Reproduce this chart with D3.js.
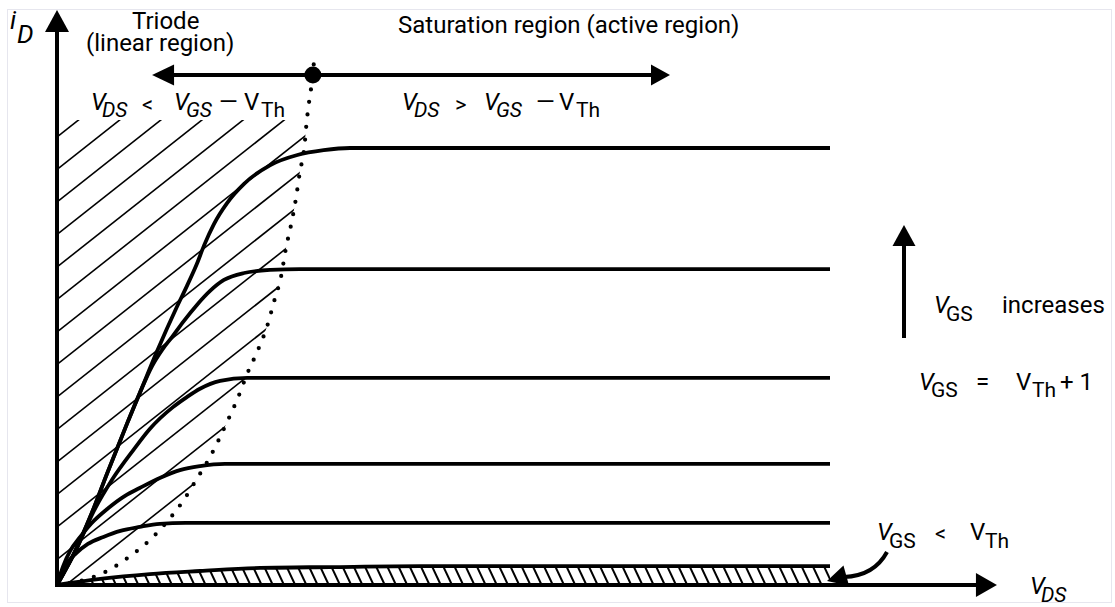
<!DOCTYPE html>
<html>
<head>
<meta charset="utf-8">
<script src="https://cdn.jsdelivr.net/npm/d3@7"></script>
<style>
 body { margin: 0; background: #fff; }
 text { font-family: Roboto, "Noto Sans", sans-serif; fill: #000; }
</style>
</head>
<body>
<script>
// iD vs VDS curves (VDS units, iD units)
var curveTop = [[0,0],[0.26,0.87],[0.43,1.56],[0.65,2.56],[0.91,3.71],[1.07,4.39],[1.29,5.33],[1.55,6.36],[1.68,6.84],[1.81,7.35],[1.90,7.76],[2.03,8.26],[2.20,8.74],[2.42,9.18],[2.76,9.61],[3.11,9.84],[3.45,9.95],[3.79,10],[10,10]];
var curve2 = [[0,0],[0.26,0.87],[0.43,1.56],[0.65,2.56],[0.91,3.71],[1.07,4.39],[1.23,5.01],[1.36,5.38],[1.49,5.68],[1.64,6.04],[1.81,6.41],[1.98,6.73],[2.16,6.98],[2.42,7.14],[2.76,7.21],[3.14,7.23],[10,7.23]];
var curve3 = [[0,0],[0.26,0.85],[0.45,1.60],[0.72,2.43],[0.98,3.07],[1.20,3.57],[1.50,4.07],[1.68,4.30],[1.85,4.49],[2.11,4.67],[2.46,4.74],[10,4.74]];
var curve4 = [[0,0],[0.08,0.43],[0.17,0.78],[0.30,1.10],[0.45,1.42],[0.65,1.74],[0.88,2.04],[1.07,2.22],[1.33,2.45],[1.59,2.63],[1.85,2.72],[2.17,2.77],[10,2.77]];
var curve5 = [[0,0],[0.05,0.25],[0.13,0.50],[0.25,0.73],[0.40,0.94],[0.60,1.10],[0.82,1.24],[1.07,1.33],[1.33,1.40],[1.66,1.42],[10,1.42]];
// VGS < VTh leakage
var curveOff = [[0,0],[0.56,0.14],[1.20,0.25],[1.85,0.32],[2.63,0.39],[3.53,0.41],[4.70,0.43],[10,0.43]];
// pinch-off locus VDS = VGS - VTh
var pinchOff = [[0,0],[0.34,0.11],[0.65,0.32],[0.93,0.64],[1.19,1.01],[1.42,1.44],[1.63,1.92],[1.81,2.43],[1.98,2.93],[2.20,3.73],[2.34,4.28],[2.46,4.83],[2.60,5.38],[2.72,5.93],[2.81,6.50],[2.90,7.07],[2.96,7.69],[3.03,8.26],[3.09,8.83],[3.14,9.43],[3.20,10.02],[3.23,10.60],[3.27,11.17],[3.31,11.67],[3.33,12.13]];
var satCurves = [curveTop, curve2, curve3, curve4, curve5];

// annotation anchors (data units)
var regionArrow = [1.23, 7.93];   // VDS span of the double arrow
var arrowLevel = 11.67;           // iD level of the double arrow
var hatchTop = 10.64;             // top of triode hatching
var axisEnds = [12.16, 13.16];    // arrow tips of VDS and iD axes

var width = 1115, height = 607;
var x = d3.scaleLinear().domain([0, 10]).range([57, 830]);
var y = d3.scaleLinear().domain([0, 10]).range([585, 148]);

var svg = d3.select("body").append("svg")
  .attr("width", width)
  .attr("height", height);

// faint frame
svg.append("rect")
  .attr("x", 7.5).attr("y", 9.5).attr("width", 1104).attr("height", 593)
  .attr("fill", "none").attr("stroke", "#e6e6ee").attr("stroke-width", 1);

var line = d3.line()
  .x(function(d) { return x(d[0]); })
  .y(function(d) { return y(d[1]); })
  .curve(d3.curveMonotoneX);

var defs = svg.append("defs");

// clip: triode region left of the pinch-off curve
var pEnd = pinchOff[pinchOff.length - 1];
defs.append("clipPath").attr("id", "clipTriode")
  .append("path")
  .attr("d", line(pinchOff) + "L" + x(0) + "," + y(pEnd[1]) + "Z");
defs.append("clipPath").attr("id", "clipTop")
  .append("rect")
  .attr("x", x(0)).attr("y", y(hatchTop))
  .attr("width", 400).attr("height", y(0) - y(hatchTop));

// clip: under the VGS < VTh curve
defs.append("clipPath").attr("id", "clipOff")
  .append("path")
  .attr("d", line(curveOff) + "L" + x(10) + "," + y(0) + "Z");

// triode hatching "/"
var hg = svg.append("g").attr("clip-path", "url(#clipTop)")
  .append("g").attr("clip-path", "url(#clipTriode)");
var slope = 0.79;
hg.selectAll("line")
  .data(d3.range(137 - 32.5 * 2, 1000, 32.5))
  .enter().append("line")
  .attr("x1", function(b) { return x(0) - 300; })
  .attr("y1", function(b) { return b + 300 * slope; })
  .attr("x2", function(b) { return x(0) + 600; })
  .attr("y2", function(b) { return b - 600 * slope; })
  .attr("stroke", "#000")
  .attr("stroke-width", 1.6);

// leakage hatching "\"
var og = svg.append("g").attr("clip-path", "url(#clipOff)");
og.selectAll("line")
  .data(d3.range(30, 850, 11.2))
  .enter().append("line")
  .attr("x1", function(c) { return c; })
  .attr("y1", y(0) - 40)
  .attr("x2", function(c) { return c + 40 * 0.47; })
  .attr("y2", y(0))
  .attr("stroke", "#000")
  .attr("stroke-width", 2);

// pinch-off dotted curve
svg.append("path")
  .attr("d", line(pinchOff))
  .attr("fill", "none")
  .attr("stroke", "#000")
  .attr("stroke-width", 4.2)
  .attr("stroke-linecap", "round")
  .attr("stroke-dasharray", "0 12.6");

// output curves
svg.selectAll(".curve")
  .data(satCurves.concat([curveOff]))
  .enter().append("path")
  .attr("class", "curve")
  .attr("d", line)
  .attr("fill", "none")
  .attr("stroke", "#000")
  .attr("stroke-width", 3.8)
  .attr("stroke-linecap", "butt");

function arrowHead(g, tx, ty, ang, len, hw) {
  var c = Math.cos(ang), s = Math.sin(ang);
  var bx = tx - c * len, by = ty - s * len;
  g.append("polygon")
    .attr("points", [[tx, ty], [bx - s * hw, by + c * hw], [bx + s * hw, by - c * hw]].join(" "))
    .attr("fill", "#000");
}

// axes
var ax = svg.append("g");
ax.append("line")
  .attr("x1", x(0)).attr("y1", y(0)).attr("x2", x(axisEnds[0]) - 18).attr("y2", y(0))
  .attr("stroke", "#000").attr("stroke-width", 4);
arrowHead(ax, x(axisEnds[0]), y(0), 0, 21, 12);
ax.append("line")
  .attr("x1", x(0)).attr("y1", y(0) + 2).attr("x2", x(0)).attr("y2", y(axisEnds[1]) + 18)
  .attr("stroke", "#000").attr("stroke-width", 4);
arrowHead(ax, x(0), y(axisEnds[1]), -Math.PI / 2, 22, 12);

// region double arrow and pinch dot
var ra = svg.append("g");
ra.append("line")
  .attr("x1", x(regionArrow[0]) + 15).attr("x2", x(regionArrow[1]) - 15)
  .attr("y1", y(arrowLevel)).attr("y2", y(arrowLevel))
  .attr("stroke", "#000").attr("stroke-width", 4);
arrowHead(ra, x(regionArrow[0]), y(arrowLevel), Math.PI, 22, 10.5);
arrowHead(ra, x(regionArrow[1]), y(arrowLevel), 0, 19, 10.5);
ra.append("circle")
  .attr("cx", x(pinchOff[23][0])).attr("cy", y(pinchOff[23][1]))
  .attr("r", 8.5).attr("fill", "#000");

// VGS increases arrow
ra.append("line")
  .attr("x1", 904).attr("x2", 904).attr("y1", 338).attr("y2", 240)
  .attr("stroke", "#000").attr("stroke-width", 4);
arrowHead(ra, 904, 225, -Math.PI / 2, 21, 11.5);

// curved pointer to the VGS < VTh curve
ra.append("path")
  .attr("d", "M887,552 Q874,576 844,577")
  .attr("fill", "none").attr("stroke", "#000").attr("stroke-width", 4);
arrowHead(ra, 827, 581, Math.atan2(5, -18), 20, 10.5);

// labels: each is a list of chunks [x, y, text, size, italic]
var labels = [
  [[10, 29, "i", 26, 1], [17, 43, "D", 26, 1]],
  [[132, 29, "Triode", 24, 0]],
  [[86, 51, "(linear region)", 24, 0]],
  [[398, 33, "Saturation region (active region)", 24, 0]],
  [[91, 110, "V", 24, 1], [102, 117, "DS", 21, 1], [142, 112, "<", 22, 0],
   [174, 110, "V", 24, 1], [186, 117, "GS", 21, 1], [219, 110, "\u2014", 24, 0],
   [244, 110, "V", 24, 0], [261, 117, "Th", 21, 0]],
  [[402, 110, "V", 24, 1], [414, 117, "DS", 21, 1], [455, 112, ">", 22, 0],
   [484, 110, "V", 24, 1], [496, 117, "GS", 21, 1], [536, 110, "\u2014", 24, 0],
   [559, 110, "V", 24, 0], [576, 117, "Th", 21, 0]],
  [[934, 313, "V", 24, 1], [946, 321, "GS", 21, 0], [1002, 313, "increases", 24, 0]],
  [[919, 390, "V", 24, 1], [931, 397, "GS", 21, 0], [976, 390, "=", 24, 0],
   [1016, 390, "V", 24, 0], [1032, 397, "Th", 21, 0], [1060, 390, "+ 1", 24, 0]],
  [[877, 540, "V", 24, 1], [889, 548, "GS", 21, 0], [935, 541, "<", 22, 0],
   [970, 540, "V", 24, 0], [985, 548, "Th", 21, 0]],
  [[1030, 594, "V", 24, 1], [1041, 602, "DS", 21, 1]]
];
var lt = svg.append("g").selectAll("text")
  .data(labels)
  .enter().append("text")
  .attr("x", function(d) { return d[0][0]; })
  .attr("y", function(d) { return d[0][1]; });
lt.selectAll("tspan")
  .data(function(d) { return d; })
  .enter().append("tspan")
  .attr("x", function(c) { return c[0]; })
  .attr("y", function(c) { return c[1]; })
  .attr("font-size", function(c) { return c[3] + "px"; })
  .attr("font-style", function(c) { return c[4] ? "italic" : "normal"; })
  .text(function(c) { return c[2]; });
</script>
</body>
</html>
